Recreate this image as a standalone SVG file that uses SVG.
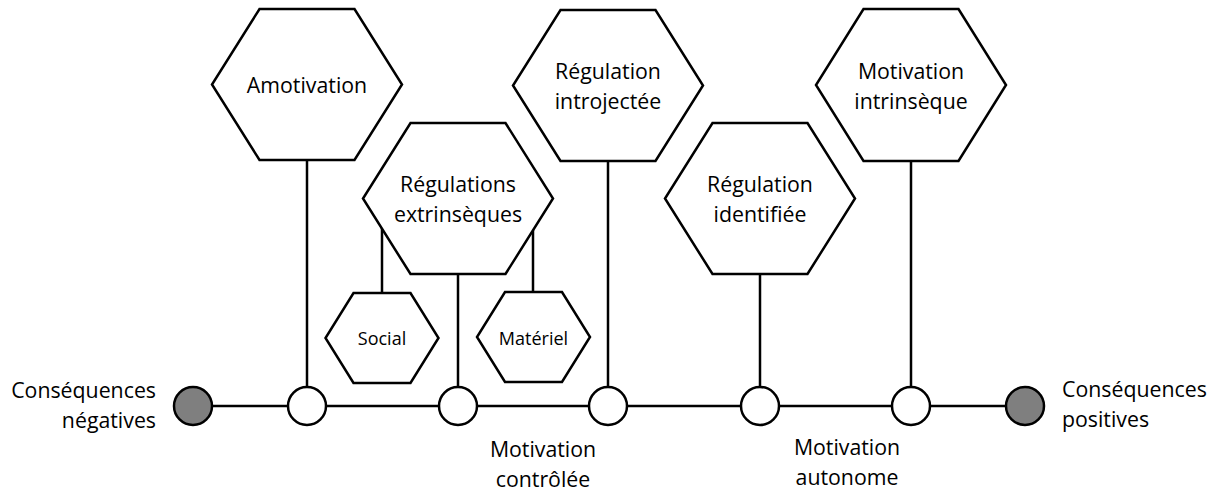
<svg xmlns="http://www.w3.org/2000/svg" width="1215" height="494" viewBox="0 0 1215 494">
<style>
  .hex { fill: #ffffff; stroke: #000000; stroke-width: 2.5; stroke-linejoin: miter; }
  .conn { stroke: #000000; stroke-width: 2.5; fill: none; }
  .pt { fill: #ffffff; stroke: #000000; stroke-width: 2.5; }
  .end { fill: #7f7f7f; stroke: #000000; stroke-width: 2.5; }
  .t { font-family: "Open Sans", "Noto Sans", "Liberation Sans", sans-serif; font-size: 21.3px; fill: #000000; }
  .ts { font-family: "Open Sans", "Noto Sans", "Liberation Sans", sans-serif; font-size: 18px; fill: #000000; }
  .m { text-anchor: middle; }
  .r { text-anchor: end; }
  .l { text-anchor: start; }
</style>
<rect x="0" y="0" width="1215" height="494" fill="#ffffff"/>
<g id="connectors">
  <line class="conn" x1="193" y1="406" x2="1025" y2="406"/>
  <line class="conn" x1="307" y1="160" x2="307" y2="387"/>
  <line class="conn" x1="458" y1="274" x2="458" y2="387"/>
  <line class="conn" x1="382" y1="228" x2="382" y2="293"/>
  <line class="conn" x1="533" y1="230" x2="533" y2="293"/>
  <line class="conn" x1="608" y1="161" x2="608" y2="387"/>
  <line class="conn" x1="760" y1="274" x2="760" y2="387"/>
  <line class="conn" x1="911" y1="161" x2="911" y2="387"/>
</g>
<g id="amotivation">
  <polygon class="hex" points="259.5,9 354.5,9 402,84.5 354.5,160 259.5,160 212,84.5"/>
  <text class="t m" x="307" y="93">Amotivation</text>
</g>
<g id="regulations-extrinseques">
  <polygon class="hex" points="410.5,123 505.5,123 553,198.5 505.5,274 410.5,274 363,198.5"/>
  <text class="t m" x="458" y="192">Régulations</text>
  <text class="t m" x="458" y="222">extrinsèques</text>
</g>
<g id="social">
  <polygon class="hex" points="353.5,293 410.5,293 438.5,338 410.5,383 353.5,383 325.5,338"/>
  <text class="ts m" x="382" y="345">Social</text>
</g>
<g id="materiel">
  <polygon class="hex" points="505,292 562,292 590,337 562,382 505,382 477,337"/>
  <text class="ts m" x="533.5" y="345">Matériel</text>
</g>
<g id="regulation-introjectee">
  <polygon class="hex" points="560.5,10 655.5,10 703,85.5 655.5,161 560.5,161 513,85.5"/>
  <text class="t m" x="608" y="79">Régulation</text>
  <text class="t m" x="608" y="109">introjectée</text>
</g>
<g id="regulation-identifiee">
  <polygon class="hex" points="712.5,123 807.5,123 855,198.5 807.5,274 712.5,274 665,198.5"/>
  <text class="t m" x="760" y="192">Régulation</text>
  <text class="t m" x="760" y="222">identifiée</text>
</g>
<g id="motivation-intrinseque">
  <polygon class="hex" points="863.5,9 958.5,9 1006,85 958.5,161 863.5,161 816,85"/>
  <text class="t m" x="911" y="79">Motivation</text>
  <text class="t m" x="911" y="109">intrinsèque</text>
</g>
<g id="point-negatif">
  <circle class="end" cx="193" cy="406" r="19"/>
</g>
<g id="point-1"><circle class="pt" cx="307" cy="406" r="19"/></g>
<g id="point-2"><circle class="pt" cx="458" cy="406" r="19"/></g>
<g id="point-3"><circle class="pt" cx="608" cy="406" r="19"/></g>
<g id="point-4"><circle class="pt" cx="760" cy="406" r="19"/></g>
<g id="point-5"><circle class="pt" cx="911" cy="406" r="19"/></g>
<g id="point-positif">
  <circle class="end" cx="1025" cy="406" r="19"/>
</g>
<g id="label-negatives">
  <text class="t r" x="156" y="398">Conséquences</text>
  <text class="t r" x="156" y="428">négatives</text>
</g>
<g id="label-positives">
  <text class="t l" x="1062" y="397">Conséquences</text>
  <text class="t l" x="1062" y="427">positives</text>
</g>
<g id="label-controlee">
  <text class="t m" x="543" y="457">Motivation</text>
  <text class="t m" x="543" y="487">contrôlée</text>
</g>
<g id="label-autonome">
  <text class="t m" x="847" y="455">Motivation</text>
  <text class="t m" x="847" y="485">autonome</text>
</g>
</svg>
